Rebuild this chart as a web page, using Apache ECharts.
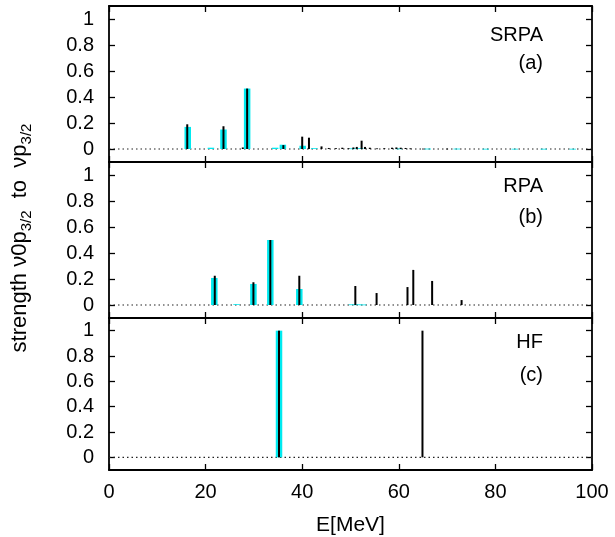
<!DOCTYPE html>
<html>
<head>
<meta charset="utf-8">
<script src="https://cdn.jsdelivr.net/npm/echarts@6/dist/echarts.min.js"></script>
<style>html,body{margin:0;padding:0;background:#fff}#c{width:615px;height:537px}</style>
</head>
<body>
<div id="c"></div>
<script>
// ---- data ----
const xTicks = [0, 20, 40, 60, 80, 100];
const yTicks = [0, 0.2, 0.4, 0.6, 0.8, 1];
const panelNames = ['SRPA', 'RPA', 'HF'];
const panelTags = ['(a)', '(b)', '(c)'];

const srpaCyan = [[16.3,0.17],[21.1,0.01],[23.7,0.15],[28.6,0.465],[34.4,0.01],[36.0,0.033],[40.1,0.025],[42.5,0.006],[50.5,0.005],[52.0,0.006],[60.0,0.004],[66,0.003],[72,0.003],[78,0.002],[84,0.002],[90,0.002],[96,0.002]];
const srpaBlack = [[16.2,0.19],[23.7,0.175],[27.7,0.012],[28.6,0.465],[36.1,0.03],[40.0,0.095],[41.4,0.087],[44.0,0.02],[45.5,0.008],[47.0,0.006],[48.3,0.01],[49.6,0.006],[50.6,0.012],[51.3,0.016],[52.3,0.064],[53.0,0.016],[54.0,0.01],[55.5,0.005],[57.0,0.006],[58.6,0.01],[59.5,0.012],[60.4,0.01],[61.4,0.008],[62.4,0.005],[65.0,0.003],[70.0,0.003]];

const rpaCyan = [[21.8,0.208],[26.4,0.006],[29.9,0.162],[33.4,0.5],[39.4,0.123],[50.3,0.005],[51.4,0.005],[52.6,0.004]];
const rpaBlack = [[21.9,0.225],[29.9,0.175],[33.4,0.5],[39.4,0.225],[51.0,0.146],[55.4,0.092],[61.8,0.138],[63.0,0.27],[66.9,0.185],[73.0,0.038]];

const hfCyan = [[35.2,1.0]];
const hfBlack = [[35.2,1.0],[64.9,1.0]];

const cyanSets = [srpaCyan, rpaCyan, hfCyan];
const blackSets = [srpaBlack, rpaBlack, hfBlack];

// ---- layout ----
const gridTops = [6, 162, 318];
const gridH = 156;
const FONT = 'Liberation Sans, Arial, sans-serif';

function stem(width, color) {
  return function (params, api) {
    const x = api.value(0), v = api.value(1);
    const p0 = api.coord([x, 0]);
    const p1 = api.coord([x, v]);
    return {
      type: 'rect',
      shape: { x: p0[0] - width / 2, y: p1[1], width: width, height: Math.max(p0[1] - p1[1], 0.8) },
      style: { fill: color }
    };
  };
}

const grid = [], xAxis = [], yAxis = [], series = [], graphic = [];
const axLine = { show: true, onZero: false, lineStyle: { color: '#000', width: 1.8 } };
const axTick = { show: true, inside: true, length: 6, lineStyle: { color: '#000', width: 1.3 } };

for (let i = 0; i < 3; i++) {
  grid.push({ left: 109, width: 483, top: gridTops[i], height: gridH });
  xAxis.push({
    type: 'value', gridIndex: i, position: 'bottom', min: 0, max: 100, interval: 20,
    axisLine: axLine, axisTick: axTick, splitLine: { show: false },
    axisLabel: { show: i === 2, margin: 12, color: '#000', fontSize: 20, fontFamily: FONT },
    name: i === 2 ? 'E[MeV]' : '', nameLocation: 'middle', nameGap: 45,
    nameTextStyle: { color: '#000', fontSize: 21, fontFamily: FONT }
  });
  xAxis.push({
    type: 'value', gridIndex: i, position: 'top', min: 0, max: 100, interval: 20,
    axisLine: axLine, axisTick: axTick, splitLine: { show: false }, axisLabel: { show: false }
  });
  yAxis.push({
    type: 'value', gridIndex: i, position: 'left', min: -0.1, max: 1.1,
    axisLine: axLine, splitLine: { show: false },
    axisTick: Object.assign({}, axTick, { customValues: yTicks }),
    axisLabel: { customValues: yTicks, margin: 15, color: '#000', fontSize: 20, fontFamily: FONT }
  });
  yAxis.push({
    type: 'value', gridIndex: i, position: 'right', min: -0.1, max: 1.1,
    axisLine: axLine, splitLine: { show: false },
    axisTick: Object.assign({}, axTick, { customValues: yTicks }),
    axisLabel: { show: false }
  });
  series.push({
    type: 'line', xAxisIndex: 2 * i, yAxisIndex: 2 * i, data: [[0, 0], [100, 0]],
    showSymbol: false, silent: true, z: 1,
    lineStyle: { color: '#222', width: 1.2, type: [1.5, 3] }
  });
  series.push({
    type: 'custom', xAxisIndex: 2 * i, yAxisIndex: 2 * i, data: cyanSets[i],
    renderItem: stem(6.5, '#00eaf0'), encode: { x: 0, y: 1 }, z: 2, clip: true
  });
  series.push({
    type: 'custom', xAxisIndex: 2 * i, yAxisIndex: 2 * i, data: blackSets[i],
    renderItem: stem(2, '#000'), encode: { x: 0, y: 1 }, z: 3, clip: true
  });
}

const nameY = [35, 186, 342];
const tagY = [63, 217, 375];
for (let i = 0; i < 3; i++) {
  graphic.push({ type: 'text', x: 543, y: nameY[i], style: { text: panelNames[i], fill: '#000', font: '20px ' + FONT, align: 'right', verticalAlign: 'middle' } });
  graphic.push({ type: 'text', x: 543, y: tagY[i], style: { text: panelTags[i], fill: '#000', font: '20px ' + FONT, align: 'right', verticalAlign: 'middle' } });
}
graphic.push({
  type: 'text', x: 20, y: 238, rotation: Math.PI / 2,
  style: {
    text: '{n|strength ν0p}{s|3/2}{n|  to  νp}{s|3/2}',
    align: 'center', verticalAlign: 'middle', fill: '#000',
    rich: {
      n: { fontSize: 22, fontFamily: FONT, lineHeight: 28, verticalAlign: 'middle', fill: '#000' },
      s: { fontSize: 15, fontFamily: FONT, lineHeight: 28, verticalAlign: 'bottom', fill: '#000' }
    }
  }
});

const chart = echarts.init(document.getElementById('c'), null, { renderer: 'canvas' });
chart.setOption({ animation: false, backgroundColor: '#fff', grid, xAxis, yAxis, series, graphic });
</script>
</body>
</html>
